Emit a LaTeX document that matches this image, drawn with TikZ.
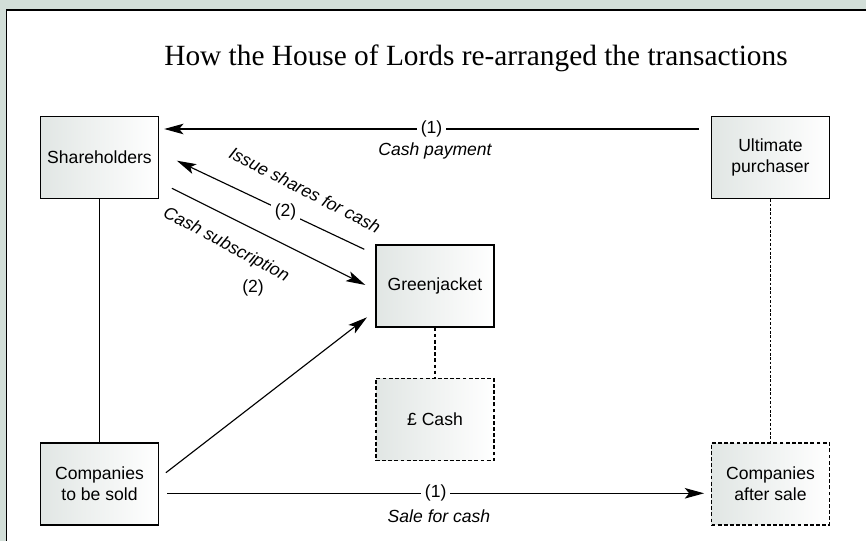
\documentclass[tikz,border=0pt]{standalone}
\usepackage{fontspec}
\setmainfont{Liberation Sans}
\newfontfamily\titlefont{Liberation Serif}
\usepackage{tikz}
\usetikzlibrary{arrows.meta, calc}
\definecolor{bggreen}{RGB}{210,222,216}
\definecolor{boxgrey}{RGB}{225,230,228}

\begin{document}
\begin{tikzpicture}[x=0.02cm, y=-0.02cm,
    party/.style={
        rectangle, draw, line width=0.8pt,
        minimum width=2.36cm, minimum height=1.64cm,
        left color=boxgrey, right color=white,
        align=center, font=\fontsize{10}{12}\selectfont
    },
    dashbox/.style={party, dash pattern=on 2.2pt off 1.3pt},
    flow/.style={-{Stealth[length=11pt, width=6pt, inset=2.5pt]}, line width=0.65pt},
    tag/.style={fill=white, inner sep=2pt, font=\fontsize{10}{12}\selectfont},
    note/.style={font=\itshape\fontsize{10}{12}\selectfont}
]
\useasboundingbox (0,0) rectangle (866,541);
\fill[bggreen] (0,0) rectangle (866,541);
\begin{scope}
\clip (0,0) rectangle (866,541);
\filldraw[fill=white, draw=black, line width=1.1pt] (6.5,580) -- (6.5,10) -- (900,10) -- (900,580) -- cycle;
\end{scope}

\node[font=\titlefont\fontsize{16.7}{20}\selectfont] (title) at (476,58) {How the House of Lords re-arranged the transactions};

\node[party]   (sh) at (99.5,157.5)  {Shareholders};
\node[party]   (up) at (770.5,157.5) {Ultimate\\purchaser};
\node[party]   (gj) at (435,286)     {Greenjacket};
\node[dashbox] (cash) at (435,419.5) {\pounds{} Cash};
\node[party]   (cs) at (99.5,484)    {Companies\\to be sold};
\node[dashbox] (ca) at (770.5,484)   {Companies\\after sale};

\draw[line width=0.65pt] (sh) -- (cs);
\draw[line width=0.6pt, dash pattern=on 1.5pt off 1pt] (up) -- (ca);
\draw[line width=0.6pt, dash pattern=on 2pt off 1.5pt] (gj) -- (cash);

\draw[flow] ($(up.west)+(-12,-28.5)$) -- node[tag]{(1)} ($(sh.east)+(5,-28.5)$);
\node[note] (paytext) at (435,151) {Cash payment};

\draw[flow] ($(gj.north west)+(-11,5)$) -- node[tag, pos=0.42]{(2)} ($(sh.east)+(17.7,3.2)$);
\node[note, rotate=-27] (issuetext) at (305,190) {Issue shares for cash};

\draw[flow] ($(sh.east)+(12.7,30.8)$) -- ($(gj.west)+(-10,-1)$);
\node[note, rotate=-28] (subtext) at (226,245) {Cash subscription};
\node[font=\fontsize{10}{12}\selectfont] (subtag) at (253,288) {(2)};

\draw[flow] ($(cs.east)+(6.7,-11.3)$) -- ($(gj.west)+(-8.3,31.3)$);

\draw[flow] ($(cs.east)+(8,9.3)$) -- node[tag]{(1)} ($(ca.west)+(-6.7,9.3)$);
\node[note] (saletext) at (439,516) {Sale for cash};
\end{tikzpicture}
\end{document}
